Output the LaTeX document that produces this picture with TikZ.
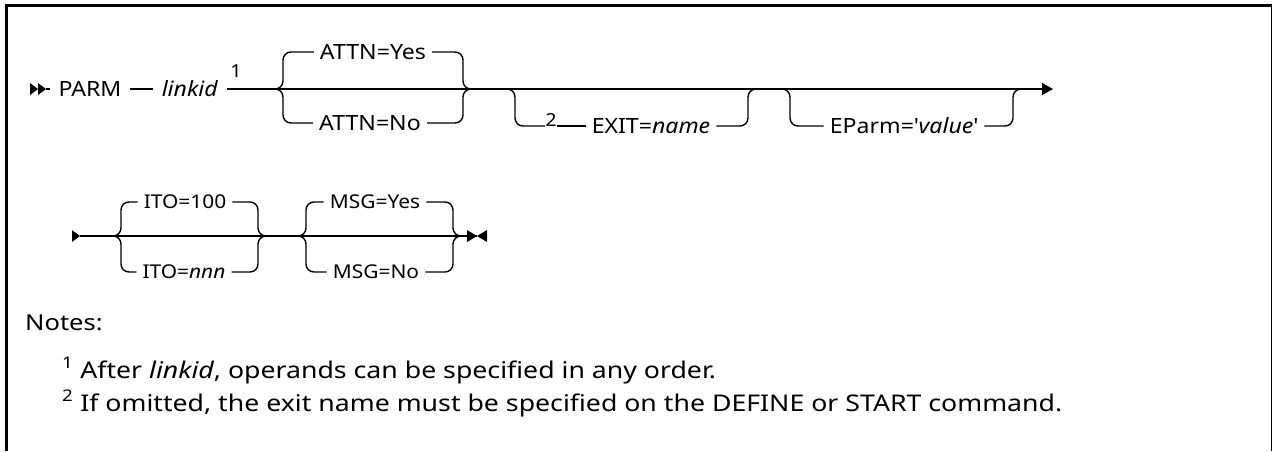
\documentclass[tikz,border=0pt]{standalone}
\usepackage{fontspec}
\setmainfont{Noto Sans}
\newfontfamily\railfont{Noto Sans}[FakeStretch=1.1]
\newfontfamily\notefont{Noto Sans}[FakeStretch=1.16]
\usetikzlibrary{arrows.meta}
\tikzset{
  rail/.style={line width=1.4pt,rounded corners=8pt},
  kw/.style={inner xsep=6pt,inner ysep=0pt,text height=15pt,text depth=0pt,font=\railfont\fontsize{21}{25}\selectfont},
  kwlow/.style={kw,text height=13.5pt,font=\railfont\fontsize{19}{23}\selectfont},
  tag/.style={inner sep=0pt,font=\railfont\fontsize{18}{21}\selectfont},
  note/.style={anchor=base west,inner sep=0pt,font=\notefont\fontsize{23}{27}\selectfont},
  frame/.style={line width=#1},
}

\begin{document}
\begin{tikzpicture}[x=1pt,y=-1pt]
  \useasboundingbox (0,0) rectangle (1273,451);
  \draw[frame=2.5pt] (6.5,451) -- (6.5,5.5) -- (1272,5.5);
  \draw[frame=1.2pt] (1271.5,5.5) -- (1271.5,451);

  % first line
  \coordinate (go1) at (46,89);
  \coordinate (aL) at (275,89);  \coordinate (aLv) at (283,89);
  \coordinate (aRv) at (463,89); \coordinate (aR) at (471,89);
  \coordinate (xL) at (507,89);  \coordinate (xLv) at (515,126);
  \coordinate (xRv) at (748,89); \coordinate (xR) at (756,89);
  \coordinate (eL) at (782,89);  \coordinate (eLv) at (790,126);
  \coordinate (eRv) at (1013,89); \coordinate (eR) at (1021,89);
  \coordinate (end1) at (1053,89);

  \node[kw,inner xsep=8pt] (parm) at (90,89) {PARM};
  \node[kw,inner xsep=9pt] (linkid) at (190,89) {\textit{linkid}};
  \node[tag] (n1) at (236,71) {1};
  \node[kw] (ayes) at (373,52) {ATTN=Yes};
  \node[kw] (ano) at (370,123) {ATTN=No};
  \node[tag] (n2) at (551,120) {2};
  \node[kw] (exit) at (651,126) {EXIT=\textit{name}};
  \node[kw] (eparm) at (904,126) {EParm=\textquotesingle\textit{value}\textquotesingle};

  \fill (30,83) -- (38,89) -- (30,95) -- cycle;
  \fill (38,83) -- (46,89) -- (38,95) -- cycle;
  \draw[rail] (go1) -- (parm);
  \draw[rail] (parm) -- (linkid);
  \draw[rail,-{Triangle[length=11pt,width=12pt]}] (linkid) -- (end1);

  \draw[rail] (ayes.west) -| (aLv) -- (aL);
  \draw[rail] (ano.west) -| (aLv) -- (aL);
  \draw[rail] (ayes.east) -| (aRv) -- (aR);
  \draw[rail] (ano.east) -| (aRv) -- (aR);

  \draw[rail] (xL) -| (xLv) -- (n2.west |- exit.west);
  \draw[rail] (n2.east |- exit.west) -- (exit.west);
  \draw[rail] (exit.east) -| (xRv) -- (xR);

  \draw[rail] (eL) -| (eLv) -- (eparm.west);
  \draw[rail] (eparm.east) -| (eRv) -- (eR);

  % second line
  \coordinate (go2) at (80,236);
  \coordinate (iL) at (113,236);  \coordinate (iLv) at (121,236);
  \coordinate (iRv) at (258,236); \coordinate (iR) at (266,236);
  \coordinate (mL) at (298,236);  \coordinate (mLv) at (306,236);
  \coordinate (mRv) at (453,236); \coordinate (mR) at (461,236);
  \coordinate (end2) at (477,236);

  \node[kwlow] (ito1) at (185,202) {ITO=100};
  \node[kwlow] (iton) at (184,272) {ITO=\textit{nnn}};
  \node[kwlow] (msgy) at (375,202) {MSG=Yes};
  \node[kwlow] (msgn) at (376,272) {MSG=No};

  \fill (72,230) -- (80,236) -- (72,242) -- cycle;
  \draw[rail] (go2) -- (end2);
  \fill (467,230) -- (477,236) -- (467,242) -- cycle;
  \fill (487,230) -- (477,236) -- (487,242) -- cycle;

  \draw[rail] (ito1.west) -| (iLv) -- (iL);
  \draw[rail] (iton.west) -| (iLv) -- (iL);
  \draw[rail] (ito1.east) -| (iRv) -- (iR);
  \draw[rail] (iton.east) -| (iRv) -- (iR);
  \draw[rail] (msgy.west) -| (mLv) -- (mL);
  \draw[rail] (msgn.west) -| (mLv) -- (mL);
  \draw[rail] (msgy.east) -| (mRv) -- (mR);
  \draw[rail] (msgn.east) -| (mRv) -- (mR);

  % notes
  \node[note,font=\notefont\fontsize{22}{26}\selectfont] (notes) at (25,330) {Notes:};
  \node[note] (note1) at (62,378) {\textsuperscript{1} After \textit{linkid}, operands can be specified in any order.};
  \node[note] (note2) at (62,411) {\textsuperscript{2} If omitted, the exit name must be specified on the DEFINE or START command.};
\end{tikzpicture}
\end{document}
